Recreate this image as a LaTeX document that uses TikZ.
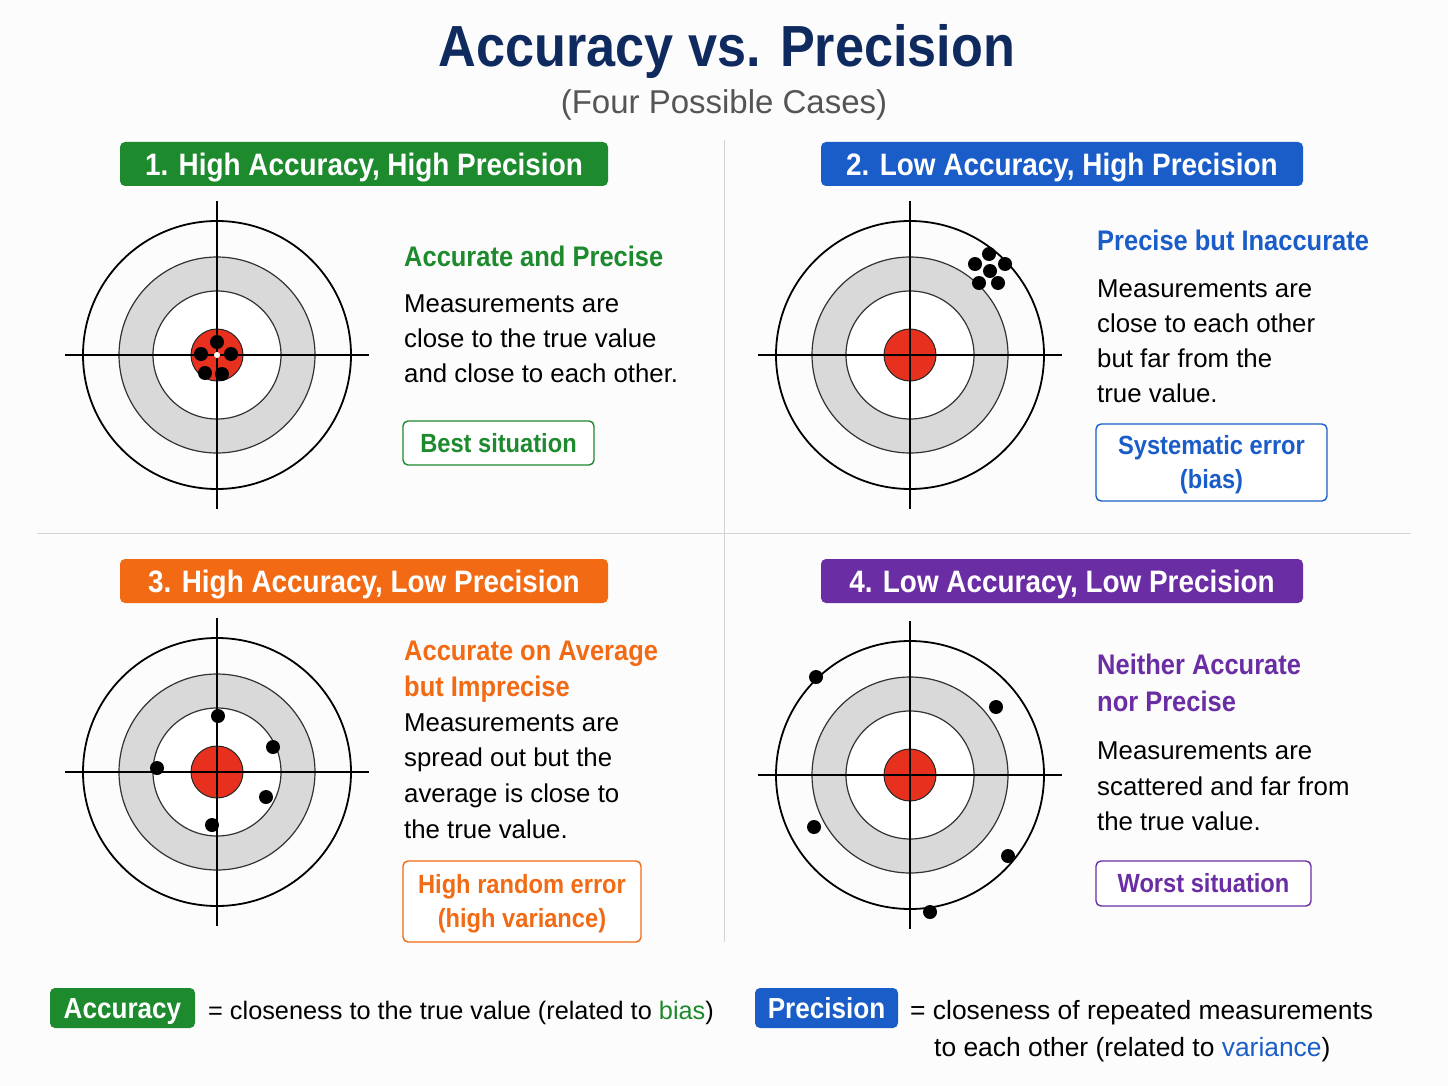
\documentclass[tikz,border=0pt]{standalone}
\usepackage{fontspec}
\setmainfont{Liberation Sans}
\newfontfamily\hb{Liberation Sans}[FakeStretch=0.9]
\definecolor{cgreen}{HTML}{1E8A2E}
\definecolor{cblue}{HTML}{1A5DC8}
\definecolor{corange}{HTML}{F26A13}
\definecolor{cpurple}{HTML}{6A2DA3}
\definecolor{navy}{HTML}{0F2A5E}
\definecolor{subgray}{HTML}{555555}
\definecolor{ringgray}{HTML}{D9D9D9}
\definecolor{bullred}{HTML}{E8301F}
\definecolor{divider}{HTML}{D4D4D4}
\begin{document}
\begin{tikzpicture}[x=1pt,y=-1pt,
  body/.style={anchor=base west, inner sep=0, font=\fontsize{25.8}{30}\selectfont, text=black},
  head/.style={anchor=base west, inner sep=0, font=\hb\bfseries\fontsize{28.3}{33}\selectfont},
  badge/.style={rounded corners=5pt, inner sep=0, text=white, text height=22.3pt, text depth=0pt, font=\hb\bfseries\fontsize{31}{36}\selectfont},
  tag/.style={draw, line width=1.4pt, rounded corners=5pt, fill=white, inner sep=0, align=center, text height=18.9pt, text depth=0pt, font=\hb\bfseries\fontsize{26.3}{34}\selectfont},
  tagtwo/.style={tag, text height=52.9pt},
  legbadge/.style={rounded corners=5pt, inner sep=0, text=white, minimum width=145pt, minimum height=40pt, text height=20.9pt, text depth=0pt, font=\hb\bfseries\fontsize{29}{34}\selectfont},
  target/.pic={
    \fill[ringgray] (0,0) circle (98pt);
    \fill[white] (0,0) circle (64pt);
    \draw[black!80, line width=1.2pt] (0,0) circle (98pt) (0,0) circle (64pt);
    \draw[black, line width=1.8pt] (0,0) circle (134pt);
    \fill[bullred] (0,0) circle (26pt);
    \draw[black!85, line width=1pt] (0,0) circle (26pt);
    \draw[black, line width=1.4pt] (-152,0) -- (152,0) (0,-154) -- (0,154);
  },
  hit/.style={fill=black}
]
\useasboundingbox (0,0) rectangle (1448,1086);
\fill[white!99!black] (0,0) rectangle (1448,1086);

% title
\node[anchor=base, inner sep=0, text=navy, font=\hb\bfseries\fontsize{58}{64}\selectfont] (title) at (727,67) {Accuracy vs. Precision};
\node[anchor=base, inner sep=0, text=subgray, font=\fontsize{33}{38}\selectfont] (subtitle) at (724,114) {(Four Possible Cases)};

% dividers
\draw[divider, line width=1pt] (724,140) -- (724,942);
\draw[divider, line width=1pt] (37,533) -- (1411,533);

% badges
\node[badge, fill=cgreen, minimum width=488pt, minimum height=44pt] (b1) at (364,164) {1. High Accuracy, High Precision};
\node[badge, fill=cblue, minimum width=482pt, minimum height=44pt] (b2) at (1062,164) {2. Low Accuracy, High Precision};
\node[badge, fill=corange, minimum width=488pt, minimum height=44pt] (b3) at (364,581) {3. High Accuracy, Low Precision};
\node[badge, fill=cpurple, minimum width=482pt, minimum height=44pt] (b4) at (1062,581) {4. Low Accuracy, Low Precision};

% targets
\pic at (217,355) {target};
\pic at (910,355) {target};
\pic at (217,772) {target};
\pic at (910,775) {target};

% hits panel 1
\fill[white] (217,355) circle (3pt);
\foreach \p in {(217,342),(201,354),(231,354),(205,373),(222,374)} \fill[hit] \p circle (7pt);
% hits panel 2
\foreach \p in {(989,254),(975,264),(990,271),(1005,264),(979,283),(998,283)} \fill[hit] \p circle (7pt);
% hits panel 3
\foreach \p in {(218,716),(273,747),(157,768),(266,797),(212,825)} \fill[hit] \p circle (7pt);
% hits panel 4
\foreach \p in {(816,677),(996,707),(814,827),(1008,856),(930,912)} \fill[hit] \p circle (7pt);

% panel 1 text
\node[head, text=cgreen] (h1) at (404,266) {Accurate and Precise};
\node[body] (t1a) at (404,312) {Measurements are};
\node[body] (t1b) at (404,347) {close to the true value};
\node[body] (t1c) at (404,382) {and close to each other.};
\node[tag, draw=cgreen, text=cgreen, minimum width=191pt, minimum height=44pt] (g1) at (498.5,443) {Best situation};

% panel 2 text
\node[head, text=cblue] (h2) at (1097,251) {Precise but Inaccurate};
\node[body] (t2a) at (1097,297) {Measurements are};
\node[body] (t2b) at (1097,332) {close to each other};
\node[body] (t2c) at (1097,367) {but far from the};
\node[body] (t2d) at (1097,402) {true value.};
\node[tagtwo, draw=cblue, text=cblue, minimum width=231pt, minimum height=77pt] (g2) at (1211.5,462.5) {Systematic error\\(bias)};

% panel 3 text
\node[head, text=corange] (h3a) at (404,660) {Accurate on Average};
\node[head, text=corange] (h3b) at (404,696) {but Imprecise};
\node[body] (t3a) at (404,731) {Measurements are};
\node[body] (t3b) at (404,766) {spread out but the};
\node[body] (t3c) at (404,802) {average is close to};
\node[body] (t3d) at (404,838) {the true value.};
\node[tagtwo, draw=corange, text=corange, minimum width=238pt, minimum height=81pt] (g3) at (522,901.5) {High random error\\(high variance)};

% panel 4 text
\node[head, text=cpurple] (h4a) at (1097,674) {Neither Accurate};
\node[head, text=cpurple] (h4b) at (1097,711) {nor Precise};
\node[body] (t4a) at (1097,759) {Measurements are};
\node[body] (t4b) at (1097,795) {scattered and far from};
\node[body] (t4c) at (1097,830) {the true value.};
\node[tag, draw=cpurple, text=cpurple, minimum width=215pt, minimum height=45pt] (g4) at (1203.5,883.5) {Worst situation};

% legend
\node[legbadge, fill=cgreen] (la) at (122.5,1008) {Accuracy};
\node[body, font=\fontsize{25.3}{30}\selectfont] (lat) at (208,1019) {= closeness to the true value (related to {\color{cgreen}bias})};
\node[legbadge, fill=cblue, minimum width=143pt] (lp) at (826.5,1008) {Precision};
\node[body, font=\fontsize{26.4}{30}\selectfont] (lpt1) at (910,1019) {= closeness of repeated measurements};
\node[body, font=\fontsize{26.4}{30}\selectfont] (lpt2) at (934,1056) {to each other (related to {\color{cblue}variance})};
\end{tikzpicture}
\end{document}
